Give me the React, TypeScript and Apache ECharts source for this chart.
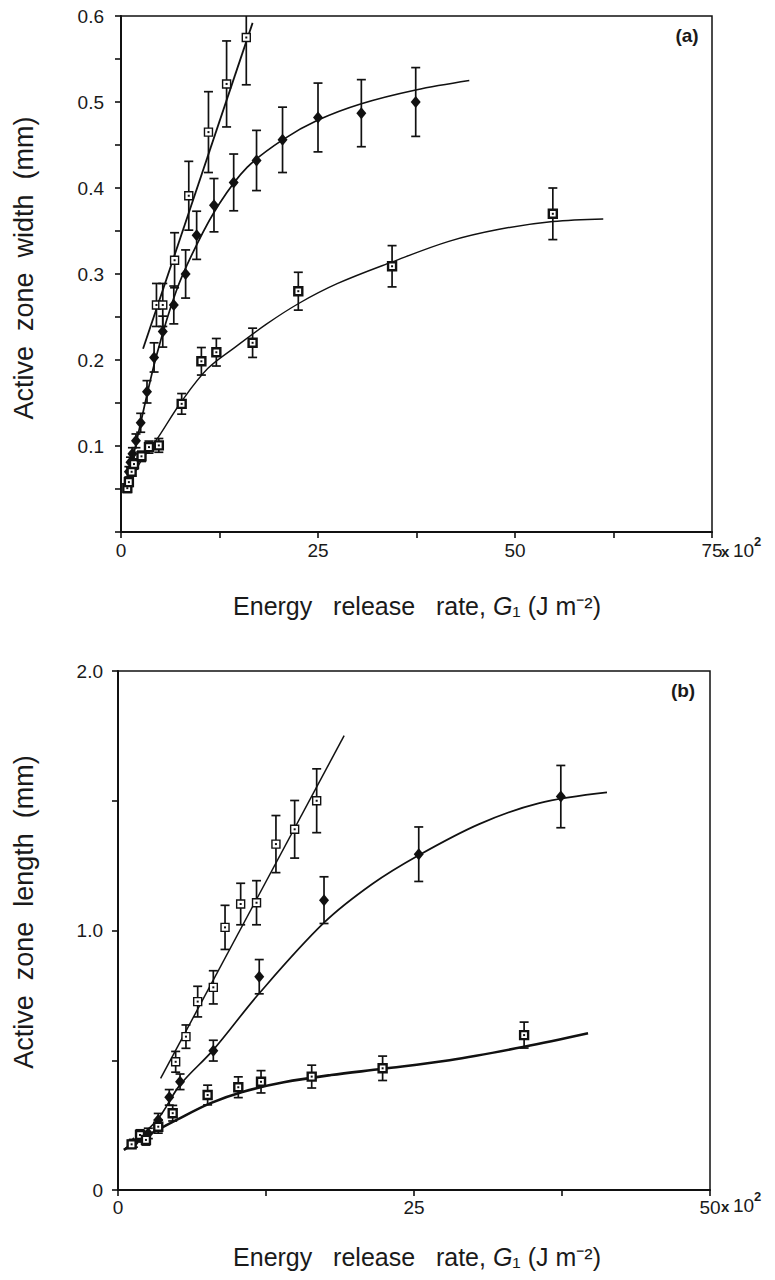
import React, { useEffect, useRef } from 'react';
import * as echarts from 'echarts';

// ---------- Panel (a): active zone width (mm) vs G1 (x 10^2 J m^-2) ----------
const A_OPEN_X = [4.5, 5.3, 6.8, 8.6, 11.1, 13.4, 15.9];
const A_OPEN_Y = [0.264, 0.264, 0.316, 0.391, 0.465, 0.521, 0.575];
const A_OPEN_E = [0.025, 0.025, 0.032, 0.04, 0.047, 0.05, 0.055];
const A_OPEN_FIT_X = [2.8, 16.7];
const A_OPEN_FIT_Y = [0.213, 0.592];

const A_DIAM_X = [1.0, 1.2, 1.45, 1.9, 2.5, 3.3, 4.2, 5.3, 6.7, 8.2, 9.6, 11.8, 14.3, 17.2, 20.5, 25.0, 30.5, 37.4];
const A_DIAM_Y = [0.07, 0.081, 0.091, 0.106, 0.127, 0.163, 0.203, 0.233, 0.264, 0.3, 0.345, 0.38, 0.4065, 0.432, 0.456, 0.482, 0.487, 0.5];
const A_DIAM_E = [0.006, 0.006, 0.007, 0.008, 0.011, 0.013, 0.017, 0.018, 0.022, 0.028, 0.028, 0.031, 0.033, 0.035, 0.038, 0.04, 0.039, 0.04];
const A_DIAM_FIT_X = [0.8, 2.5, 4.5, 7, 9.6, 12.5, 16, 20.5, 25, 30.5, 37.4, 44.2];
const A_DIAM_FIT_Y = [0.056, 0.127, 0.205, 0.28, 0.334, 0.382, 0.424, 0.456, 0.479, 0.498, 0.514, 0.525];

const A_SQ_X = [0.8, 1.0, 1.35, 1.65, 2.6, 3.55, 4.8, 7.7, 10.2, 12.1, 16.7, 22.5, 34.4, 54.8];
const A_SQ_Y = [0.051, 0.058, 0.07, 0.079, 0.088, 0.0987, 0.1007, 0.149, 0.1985, 0.209, 0.22, 0.28, 0.309, 0.37];
const A_SQ_E = [0.005, 0.005, 0.005, 0.006, 0.006, 0.007, 0.008, 0.012, 0.016, 0.016, 0.017, 0.022, 0.024, 0.03];
const A_SQ_FIT_X = [0.7, 2.5, 4.5, 7.7, 11, 14.5, 18.5, 22.6, 27.5, 34.4, 41.6, 48, 54.8, 61.2];
const A_SQ_FIT_Y = [0.048, 0.082, 0.107, 0.152, 0.19, 0.215, 0.242, 0.266, 0.289, 0.314, 0.338, 0.352, 0.361, 0.364];

const A_X_LABELS = [0, 25, 50, 75];
const A_Y_LABELS = [0.1, 0.2, 0.3, 0.4, 0.5, 0.6];

// ---------- Panel (b): active zone length (mm) vs G1 ----------
const B_OPEN_X = [4.87, 5.74, 6.73, 8.05, 9.04, 10.36, 11.7, 13.34, 14.92, 16.78];
const B_OPEN_Y = [0.494, 0.591, 0.726, 0.781, 1.012, 1.102, 1.107, 1.333, 1.39, 1.5];
const B_OPEN_E = [0.04, 0.045, 0.059, 0.064, 0.085, 0.08, 0.085, 0.11, 0.111, 0.123];
const B_OPEN_FIT_X = [3.6, 19.1];
const B_OPEN_FIT_Y = [0.43, 1.751];

const B_DIAM_X = [1.3, 1.86, 2.56, 3.4, 4.33, 5.24, 8.05, 11.93, 17.4, 25.4, 37.4];
const B_DIAM_Y = [0.18, 0.205, 0.218, 0.27, 0.357, 0.417, 0.537, 0.822, 1.117, 1.294, 1.516];
const B_DIAM_E = [0.015, 0.02, 0.02, 0.025, 0.03, 0.03, 0.04, 0.066, 0.09, 0.105, 0.12];
const B_DIAM_FIT_X = [0.5, 3.3, 5.24, 8.05, 11.93, 17.4, 21.5, 25.4, 30.5, 35.5, 41.3];
const B_DIAM_FIT_Y = [0.155, 0.27, 0.405, 0.54, 0.758, 1.03, 1.18, 1.29, 1.41, 1.49, 1.532];

const B_SQ_X = [1.15, 1.86, 2.36, 3.4, 4.62, 7.57, 10.16, 12.08, 16.36, 22.35, 34.3];
const B_SQ_Y = [0.176, 0.212, 0.193, 0.244, 0.296, 0.366, 0.396, 0.417, 0.437, 0.469, 0.597];
const B_SQ_E = [0.015, 0.02, 0.02, 0.025, 0.03, 0.038, 0.04, 0.043, 0.044, 0.047, 0.05];
const B_SQ_FIT_X = [0.5, 2.5, 4.95, 7.77, 10.5, 14, 18, 22.4, 28, 34.3, 39.7];
const B_SQ_FIT_Y = [0.155, 0.21, 0.27, 0.334, 0.378, 0.415, 0.443, 0.467, 0.5, 0.552, 0.604];

const B_X_LABELS = [0, 25, 50];
const B_Y_LABELS: Record<string, string> = { '0': '0', '1': '1.0', '2': '2.0' };

const FONT = '"Liberation Sans", Arial, Helvetica, sans-serif';
const INK = '#111';

const zip = (xs: number[], ys: number[]) => xs.map((x, i) => [x, ys[i]]);
const zip3 = (xs: number[], ys: number[], es: number[]) => xs.map((x, i) => [x, ys[i], es[i]]);

function errorBars(name: string, idx: number, xs: number[], ys: number[], es: number[], cap: number) {
  return {
    type: 'custom',
    name,
    xAxisIndex: idx,
    yAxisIndex: idx,
    z: 3,
    clip: true,
    data: zip3(xs, ys, es),
    encode: { x: 0, y: 1 },
    renderItem: (params: any, api: any) => {
      const x = api.value(0);
      const y = api.value(1);
      const e = api.value(2);
      const top = api.coord([x, y + e]);
      const bot = api.coord([x, y - e]);
      const st = { stroke: INK, lineWidth: 1.7 };
      return {
        type: 'group',
        children: [
          { type: 'line', shape: { x1: top[0], y1: top[1], x2: bot[0], y2: bot[1] }, style: st },
          { type: 'line', shape: { x1: top[0] - cap, y1: top[1], x2: top[0] + cap, y2: top[1] }, style: st },
          { type: 'line', shape: { x1: bot[0] - cap, y1: bot[1], x2: bot[0] + cap, y2: bot[1] }, style: st },
        ],
      };
    },
  };
}

function fitLine(idx: number, xs: number[], ys: number[], width: number, straight = false) {
  return {
    type: 'line',
    xAxisIndex: idx,
    yAxisIndex: idx,
    z: 2,
    data: zip(xs, ys),
    showSymbol: false,
    symbol: 'none',
    smooth: straight ? false : 0.35,
    lineStyle: { color: INK, width },
    silent: true,
  };
}

function squares(idx: number, xs: number[], ys: number[], size: number, border: number) {
  return [
    {
      type: 'scatter',
      xAxisIndex: idx,
      yAxisIndex: idx,
      z: 4,
      symbol: 'rect',
      symbolSize: size,
      data: zip(xs, ys),
      itemStyle: { color: '#fff', borderColor: INK, borderWidth: border, opacity: 1 },
    },
    {
      type: 'scatter',
      xAxisIndex: idx,
      yAxisIndex: idx,
      z: 5,
      symbol: 'rect',
      symbolSize: 2,
      data: zip(xs, ys),
      itemStyle: { color: INK, opacity: 1 },
    },
  ];
}

function diamonds(idx: number, xs: number[], ys: number[]) {
  return {
    type: 'scatter',
    xAxisIndex: idx,
    yAxisIndex: idx,
    z: 4,
    symbol: 'diamond',
    symbolSize: [10, 12],
    data: zip(xs, ys),
    itemStyle: { color: INK, opacity: 1 },
  };
}

const axisCommon = {
  axisLine: { show: true, lineStyle: { color: INK, width: 2 } },
  axisTick: { show: true, inside: false, length: 6, lineStyle: { color: INK, width: 1.6 } },
  splitLine: { show: false },
};

function txt(x: number, y: number, text: string, size: number, extra: any = {}) {
  return {
    type: 'text',
    x,
    y,
    ...extra.el,
    style: {
      text,
      fontSize: size,
      fontFamily: FONT,
      fill: '#1a1a1a',
      align: extra.align || 'left',
      verticalAlign: extra.va || 'middle',
      textAlign: extra.align || 'left',
      textVerticalAlign: extra.va || 'middle',
      fontWeight: extra.weight || 'normal',
      rich: extra.rich,
    },
  };
}

export default function App() {
  const ref = useRef<HTMLDivElement>(null);
  useEffect(() => {
    if (!ref.current) return;
    const chart = echarts.init(ref.current, undefined, { renderer: 'svg' });
    const labelStyle = { color: '#1a1a1a', fontSize: 19, fontFamily: FONT };
    const richG = { g: { fontStyle: 'italic', fontSize: 25, fontFamily: FONT, fill: '#1a1a1a' } };
    const option: any = {
      animation: false,
      backgroundColor: '#fff',
      grid: [
        { left: 121, top: 16, width: 591, height: 516, show: true, borderColor: INK, borderWidth: 1.5 },
        { left: 118, top: 671, width: 592, height: 519, show: true, borderColor: INK, borderWidth: 1.5 },
      ],
      xAxis: [
        {
          type: 'value', gridIndex: 0, min: 0, max: 75, interval: 12.5, ...axisCommon,
          axisLabel: { ...labelStyle, margin: 9, formatter: (v: number) => (A_X_LABELS.includes(v) ? String(v) : '') },
        },
        {
          type: 'value', gridIndex: 1, min: 0, max: 50, interval: 12.5, ...axisCommon,
          axisLabel: { ...labelStyle, margin: 8, formatter: (v: number) => (B_X_LABELS.includes(v) ? String(v) : '') },
        },
      ],
      yAxis: [
        {
          type: 'value', gridIndex: 0, min: 0, max: 0.6, interval: 0.05, ...axisCommon,
          axisLabel: {
            ...labelStyle, margin: 17,
            formatter: (v: number) => {
              const r = Math.round(v * 100) / 100;
              return A_Y_LABELS.includes(r) ? r.toFixed(1) : '';
            },
          },
        },
        {
          type: 'value', gridIndex: 1, min: 0, max: 2, interval: 0.5, ...axisCommon,
          axisLabel: {
            ...labelStyle, margin: 15,
            formatter: (v: number) => B_Y_LABELS[String(v)] ?? '',
          },
        },
      ],
      series: [
        fitLine(0, A_OPEN_FIT_X, A_OPEN_FIT_Y, 1.8, true),
        fitLine(0, A_DIAM_FIT_X, A_DIAM_FIT_Y, 1.7),
        fitLine(0, A_SQ_FIT_X, A_SQ_FIT_Y, 1.4),
        errorBars('a-open', 0, A_OPEN_X, A_OPEN_Y, A_OPEN_E, 4.5),
        errorBars('a-diam', 0, A_DIAM_X, A_DIAM_Y, A_DIAM_E, 4.5),
        errorBars('a-sq', 0, A_SQ_X, A_SQ_Y, A_SQ_E, 4.5),
        ...squares(0, A_OPEN_X, A_OPEN_Y, 8, 1.4),
        diamonds(0, A_DIAM_X, A_DIAM_Y),
        ...squares(0, A_SQ_X, A_SQ_Y, 8, 2.4),

        fitLine(1, B_OPEN_FIT_X, B_OPEN_FIT_Y, 1.5, true),
        fitLine(1, B_DIAM_FIT_X, B_DIAM_FIT_Y, 1.7),
        fitLine(1, B_SQ_FIT_X, B_SQ_FIT_Y, 2.6),
        errorBars('b-open', 1, B_OPEN_X, B_OPEN_Y, B_OPEN_E, 4.5),
        errorBars('b-diam', 1, B_DIAM_X, B_DIAM_Y, B_DIAM_E, 4.5),
        errorBars('b-sq', 1, B_SQ_X, B_SQ_Y, B_SQ_E, 4.5),
        ...squares(1, B_OPEN_X, B_OPEN_Y, 8, 1.4),
        diamonds(1, B_DIAM_X, B_DIAM_Y),
        ...squares(1, B_SQ_X, B_SQ_Y, 8, 2.4),
      ],
      graphic: [
        txt(687, 35, '(a)', 19, { align: 'center', weight: 'bold' }),
        txt(683, 690, '(b)', 19, { align: 'center', weight: 'bold' }),
        txt(24, 268, 'Active  zone  width  (mm)', 27, { align: 'center', el: { rotation: Math.PI / 2 } }),
        txt(24, 912, 'Active  zone  length  (mm)', 27, { align: 'center', el: { rotation: Math.PI / 2 } }),
        txt(417, 606, 'Energy   release   rate, {g|G}₁ (J m⁻²)', 25, { align: 'center', rich: richG }),
        txt(417, 1257, 'Energy   release   rate, {g|G}₁ (J m⁻²)', 25, { align: 'center', rich: richG }),
        txt(721, 551, 'x', 15, { weight: 'bold' }),
        txt(733, 550, '10', 19),
        txt(754, 541, '2', 13, { weight: 'bold' }),
        txt(721, 1206, 'x', 15, { weight: 'bold' }),
        txt(733, 1205, '10', 19),
        txt(754, 1196, '2', 13, { weight: 'bold' }),
      ],
    };
    chart.setOption(option);
    return () => chart.dispose();
  }, []);
  return (
    <div
      ref={ref}
      style={{ position: 'absolute', left: 0, top: 0, width: 775, height: 1280, background: '#fff' }}
    />
  );
}
